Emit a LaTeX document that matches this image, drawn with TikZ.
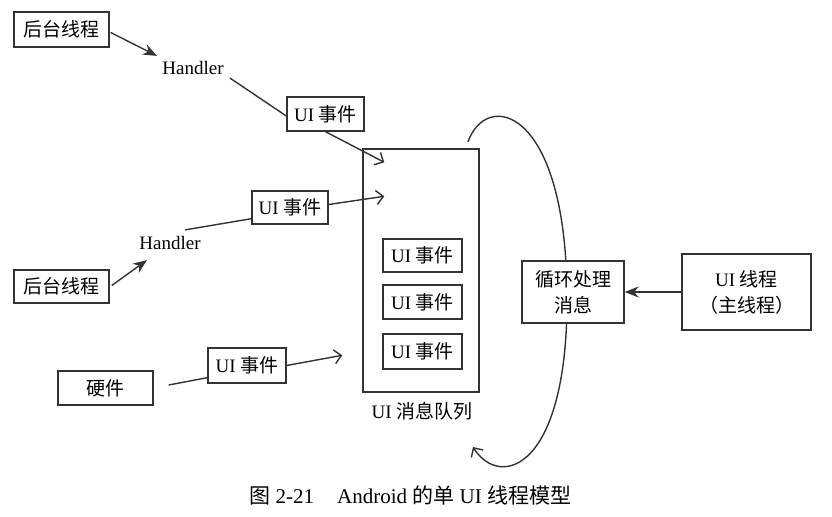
\documentclass[tikz,border=0pt]{standalone}
\usepackage{fontspec}
\setmainfont{Liberation Serif}
\newfontfamily\cjkfont{Noto Sans CJK SC}
\newcommand\zhtext[1]{{\cjkfont #1}}
\usetikzlibrary{arrows.meta,calc}
\begin{document}
\begin{tikzpicture}[x=0.5pt,y=-0.5pt,
  line/.style={draw=black!80, line width=0.7pt},
  box/.style={draw=black!80, line width=0.7pt, fill=white, inner sep=0pt, align=center,
    font=\fontsize{9.5}{13}\selectfont},
  txt/.style={inner sep=1pt, font=\fontsize{9.5}{12}\selectfont},
  filledtip/.style={-{Stealth[length=7pt,width=5.5pt]}},
  opentip/.style={-{Straight Barb[length=3.5pt,width=7pt]}},
]
\useasboundingbox[fill=white] (0,0) rectangle (832,517);

% loop curve (drawn first, covered by the loop box)
\coordinate (cs) at (468,142);
\coordinate (ce) at (473,447);
\draw[line,opentip] (cs) .. controls (486,90) and (565,106) .. (567,292)
  .. controls (569,470) and (500,490) .. (ce);

% left sources
\node[box, minimum width=47.5pt, minimum height=17.5pt] (bg1) at (61.5,29.5) {\zhtext{后台线程}};
\node[box, minimum width=47.5pt, minimum height=16.5pt] (bg2) at (61.5,286.5) {\zhtext{后台线程}};
\node[box, minimum width=47.5pt, minimum height=17pt] (hw) at (105.5,388) {\zhtext{硬件}};

\node[txt] (h1) at (193,68) {Handler};
\node[txt] (h2) at (170,243) {Handler};

% event boxes
\node[box, minimum width=38.5pt, minimum height=17pt] (e1) at (325.5,114) {UI \zhtext{事件}};
\node[box, minimum width=38pt, minimum height=16.5pt] (e2) at (290,207.5) {UI \zhtext{事件}};
\node[box, minimum width=39pt, minimum height=17.5pt] (e3) at (247,365.5) {UI \zhtext{事件}};

% queue
\node[box, minimum width=58pt, minimum height=121.5pt] (queue) at (421,270.5) {};
\node[box, minimum width=39.5pt, minimum height=16.5pt] (qa) at (422.5,255.5) {UI \zhtext{事件}};
\node[box, minimum width=39.5pt, minimum height=17pt] (qb) at (422.5,302) {UI \zhtext{事件}};
\node[box, minimum width=39.5pt, minimum height=17.5pt] (qc) at (422.5,351.5) {UI \zhtext{事件}};
\node[txt] (ql) at (422,411) {UI \zhtext{消息队列}};

\coordinate (q1) at ([shift={(22,14)}]queue.north west);
\coordinate (q2) at ([shift={(22,48)}]queue.north west);
\coordinate (q3) at ([shift={(-20,207)}]queue.north west);

% loop and UI thread
\node[box, minimum width=51pt, minimum height=31pt] (loop) at (573,292) {\zhtext{循环处理}\\\zhtext{消息}};
\node[box, minimum width=64.5pt, minimum height=38pt] (ui) at (746.5,292) {UI \zhtext{线程}\\\zhtext{（主线程）}};

% connectors
\draw[line,filledtip] ([shift={(1,3)}]bg1.east) -- ([shift={(-3,-3)}]h1.north west);
\draw[line] ([shift={(4,1)}]h1.south east) -- ([yshift=-1pt]e1.west);
\draw[line,opentip] (e1.south) -- (q1);

\draw[line,filledtip] ([shift={(2,-1)}]bg2.east) -- ([shift={(-23,8)}]h2.south);
\draw[line] ([shift={(15,-4)}]h2.north) -- ([shift={(0,-6)}]e2.south west);
\draw[line,opentip] ([shift={(0,-3)}]e2.east) -- (q2);

\draw[line] ([shift={(15,-3)}]hw.east) -- ([shift={(0,-6)}]e3.south west);
\draw[line,opentip] (e3.east) -- (q3);

\draw[line,filledtip] (ui.west) -- (loop.east);

% caption
\node[inner sep=0pt, anchor=west, font=\fontsize{10.5}{12}\selectfont] (cap) at (249,495)
  {\zhtext{图} 2-21\hspace{1.1em}Android \zhtext{的单} UI \zhtext{线程模型}};
\end{tikzpicture}
\end{document}
